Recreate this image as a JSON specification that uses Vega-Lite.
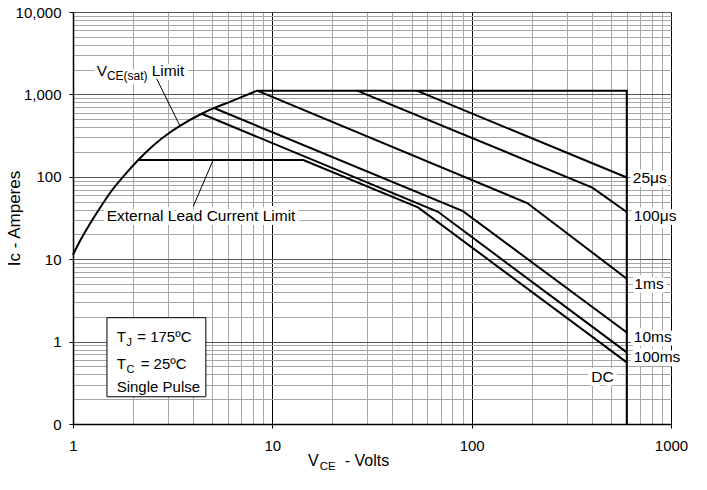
{
  "$schema": "https://vega.github.io/schema/vega-lite/v6.json",
  "width": 598,
  "height": 412,
  "autosize": {"type": "none"},
  "padding": {"left": 73, "top": 12, "right": 36, "bottom": 66},
  "config": {
    "font": "Liberation Sans",
    "view": {"stroke": null},
    "text": {"font": "Liberation Sans"}
  },
  "datasets": {
    "curves": [
      {"series": "limit", "order": 1, "x": 8.4, "y": 1110},
      {"series": "limit", "order": 2, "x": 600, "y": 1110},
      {"series": "limit", "order": 3, "x": 600, "y": 0.1},
      {"series": "25us", "order": 1, "x": 53, "y": 1110},
      {"series": "25us", "order": 2, "x": 600, "y": 98},
      {"series": "100us", "order": 1, "x": 26.6, "y": 1110},
      {"series": "100us", "order": 2, "x": 403, "y": 74},
      {"series": "100us", "order": 3, "x": 600, "y": 37.4},
      {"series": "1ms", "order": 1, "x": 8.4, "y": 1110},
      {"series": "1ms", "order": 2, "x": 190, "y": 48},
      {"series": "1ms", "order": 3, "x": 600, "y": 5.8},
      {"series": "10ms", "order": 1, "x": 5.1, "y": 684},
      {"series": "10ms", "order": 2, "x": 90.4, "y": 38.3},
      {"series": "10ms", "order": 3, "x": 600, "y": 1.29},
      {"series": "100ms", "order": 1, "x": 4.42, "y": 582},
      {"series": "100ms", "order": 2, "x": 67.8, "y": 37.6},
      {"series": "100ms", "order": 3, "x": 600, "y": 0.74},
      {"series": "DC", "order": 1, "x": 2.13, "y": 160},
      {"series": "DC", "order": 2, "x": 14.3, "y": 160},
      {"series": "DC", "order": 3, "x": 53.8, "y": 42.5},
      {"series": "DC", "order": 4, "x": 600, "y": 0.56}
    ],
    "vcesat": [
      {"order": 1, "x": 1, "y": 11.3},
      {"order": 2, "x": 1.084, "y": 16.6},
      {"order": 3, "x": 1.175, "y": 23.4},
      {"order": 4, "x": 1.365, "y": 41.8},
      {"order": 5, "x": 1.549, "y": 65.9},
      {"order": 6, "x": 1.79, "y": 101},
      {"order": 7, "x": 2.13, "y": 161},
      {"order": 8, "x": 2.512, "y": 237},
      {"order": 9, "x": 3.06, "y": 345},
      {"order": 10, "x": 3.44, "y": 415},
      {"order": 11, "x": 4.42, "y": 582},
      {"order": 12, "x": 5.15, "y": 690},
      {"order": 13, "x": 6.12, "y": 813},
      {"order": 14, "x": 8.4, "y": 1110}
    ],
    "leaders": [
      {"series": "vce", "order": 1, "x": 2.628, "y": 1549},
      {"series": "vce", "order": 2, "x": 3.44, "y": 415},
      {"series": "lead", "order": 1, "x": 4.01, "y": 43.7},
      {"series": "lead", "order": 2, "x": 5.05, "y": 160}
    ],
    "box": [
      {"x": 1.48, "x2": 4.64, "y": 1.95, "y2": 0.214}
    ],
    "callouts": [
      {"x": 1.315, "y": 1687, "text": "V"},
      {"x": 2.48, "y": 1687, "text": "Limit"},
      {"x": 1.476, "y": 28.8, "text": "External Lead Current Limit"},
      {"x": 643.5, "y": 84.1, "text": "25μs"},
      {"x": 651, "y": 28.8, "text": "100μs"},
      {"x": 655, "y": 4.35, "text": "1ms"},
      {"x": 651, "y": 0.978, "text": "10ms"},
      {"x": 651, "y": 0.559, "text": "100ms"},
      {"x": 398, "y": 0.32, "text": "DC"}
    ],
    "callout_sub": [
      {"x": 1.48, "y": 1486, "text": "CE(sat)"}
    ],
    "box_text": [
      {"x": 1.656, "y": 0.989, "text": "T"},
      {"x": 2.1, "y": 0.989, "text": "= 175ºC"},
      {"x": 1.656, "y": 0.469, "text": "T"},
      {"x": 2.185, "y": 0.469, "text": "= 25ºC"},
      {"x": 1.656, "y": 0.2418, "text": "Single Pulse"}
    ],
    "box_sub": [
      {"x": 1.854, "y": 0.874, "text": "J"},
      {"x": 1.854, "y": 0.416, "text": "C"}
    ],
    "xtitle": [
      {"x": 15.11, "y": 0.0305, "text": "V"},
      {"x": 23.08, "y": 0.0305, "text": "- Volts"}
    ],
    "xtitle_sub": [
      {"x": 17.3, "y": 0.0274, "text": "CE"}
    ]
  },
  "encoding": {
    "x": {
      "field": "x",
      "type": "quantitative",
      "scale": {"type": "log", "domain": [1, 1000], "nice": false},
      "axis": {
        "title": null,
        "values": [1,2,3,4,5,6,7,8,9,10,20,30,40,50,60,70,80,90,100,200,300,400,500,600,700,800,900,1000],
        "format": "d",
        "labelExpr": "indexof([1,10,100,1000], datum.value) >= 0 ? datum.label : ''",
        "labelOverlap": false,
        "labelFlush": false,
        "labelFontSize": 15,
        "labelColor": "#000000",
        "labelPadding": 10,
        "tickSize": 4,
        "tickColor": "#000000",
        "tickOpacity": {"condition": {"test": "indexof([1,10,100,1000], datum.value) >= 0", "value": 1}, "value": 0},
        "domainColor": "#000000",
        "domainWidth": 1.5,
        "grid": true,
        "gridWidth": 1,
        "gridColor": {"condition": {"test": "indexof([1,10,100,1000], datum.value) >= 0", "value": "#000000"}, "value": "#a6a6a6"}
      }
    },
    "y": {
      "field": "y",
      "type": "quantitative",
      "scale": {"type": "log", "domain": [0.1, 10000], "nice": false},
      "axis": {
        "title": "Ic - Amperes",
        "titleFontSize": 17,
        "titleFontWeight": "normal",
        "titleColor": "#000000",
        "titleX": -50,
        "titleY": 206,
        "values": [0.1,0.2,0.3,0.4,0.5,0.6,0.7,0.8,0.9,1,2,3,4,5,6,7,8,9,10,20,30,40,50,60,70,80,90,100,200,300,400,500,600,700,800,900,1000,2000,3000,4000,5000,6000,7000,8000,9000,10000],
        "format": ",.0f",
        "labelExpr": "indexof([0.1,1,10,100,1000,10000], datum.value) >= 0 ? datum.label : ''",
        "labelOverlap": false,
        "labelFlush": false,
        "labelFontSize": 15,
        "labelColor": "#000000",
        "labelPadding": 8,
        "tickSize": 4,
        "tickColor": "#000000",
        "tickOpacity": {"condition": {"test": "indexof([0.1,1,10,100,1000,10000], datum.value) >= 0", "value": 1}, "value": 0},
        "domainColor": "#000000",
        "domainWidth": 1.5,
        "grid": true,
        "gridWidth": 1,
        "gridColor": {"condition": {"test": "indexof([0.1,1,10,100,1000,10000], datum.value) >= 0", "value": "#555555"}, "value": "#a6a6a6"}
      }
    }
  },
  "layer": [
    {
      "data": {"name": "box"},
      "mark": {"type": "rect", "fill": "#ffffff", "stroke": "#000000", "strokeWidth": 1},
      "encoding": {"x2": {"field": "x2"}, "y2": {"field": "y2"}}
    },
    {
      "data": {"name": "callouts"},
      "mark": {"type": "text", "align": "left", "baseline": "alphabetic", "fontSize": 15.5, "color": "#ffffff", "stroke": "#ffffff", "strokeWidth": 8, "strokeJoin": "round"},
      "encoding": {"text": {"field": "text"}}
    },
    {
      "data": {"name": "callout_sub"},
      "mark": {"type": "text", "align": "left", "baseline": "alphabetic", "fontSize": 12, "color": "#ffffff", "stroke": "#ffffff", "strokeWidth": 8, "strokeJoin": "round"},
      "encoding": {"text": {"field": "text"}}
    },
    {
      "data": {"name": "curves"},
      "mark": {"type": "line", "color": "#000000", "strokeWidth": 2, "interpolate": "linear"},
      "encoding": {"detail": {"field": "series"}, "order": {"field": "order"}}
    },
    {
      "data": {"name": "vcesat"},
      "mark": {"type": "line", "color": "#000000", "strokeWidth": 2, "interpolate": "monotone"},
      "encoding": {"order": {"field": "order"}}
    },
    {
      "data": {"name": "leaders"},
      "mark": {"type": "line", "color": "#000000", "strokeWidth": 1},
      "encoding": {"detail": {"field": "series"}, "order": {"field": "order"}}
    },
    {
      "data": {"name": "callouts"},
      "mark": {"type": "text", "align": "left", "baseline": "alphabetic", "fontSize": 15.5, "color": "#000000"},
      "encoding": {"text": {"field": "text"}}
    },
    {
      "data": {"name": "callout_sub"},
      "mark": {"type": "text", "align": "left", "baseline": "alphabetic", "fontSize": 12, "color": "#000000"},
      "encoding": {"text": {"field": "text"}}
    },
    {
      "data": {"name": "box_text"},
      "mark": {"type": "text", "align": "left", "baseline": "alphabetic", "fontSize": 15, "color": "#000000"},
      "encoding": {"text": {"field": "text"}}
    },
    {
      "data": {"name": "box_sub"},
      "mark": {"type": "text", "align": "left", "baseline": "alphabetic", "fontSize": 11, "color": "#000000"},
      "encoding": {"text": {"field": "text"}}
    },
    {
      "data": {"name": "xtitle"},
      "mark": {"type": "text", "align": "left", "baseline": "alphabetic", "fontSize": 16, "color": "#000000"},
      "encoding": {"text": {"field": "text"}}
    },
    {
      "data": {"name": "xtitle_sub"},
      "mark": {"type": "text", "align": "left", "baseline": "alphabetic", "fontSize": 11.5, "color": "#000000"},
      "encoding": {"text": {"field": "text"}}
    }
  ]
}
